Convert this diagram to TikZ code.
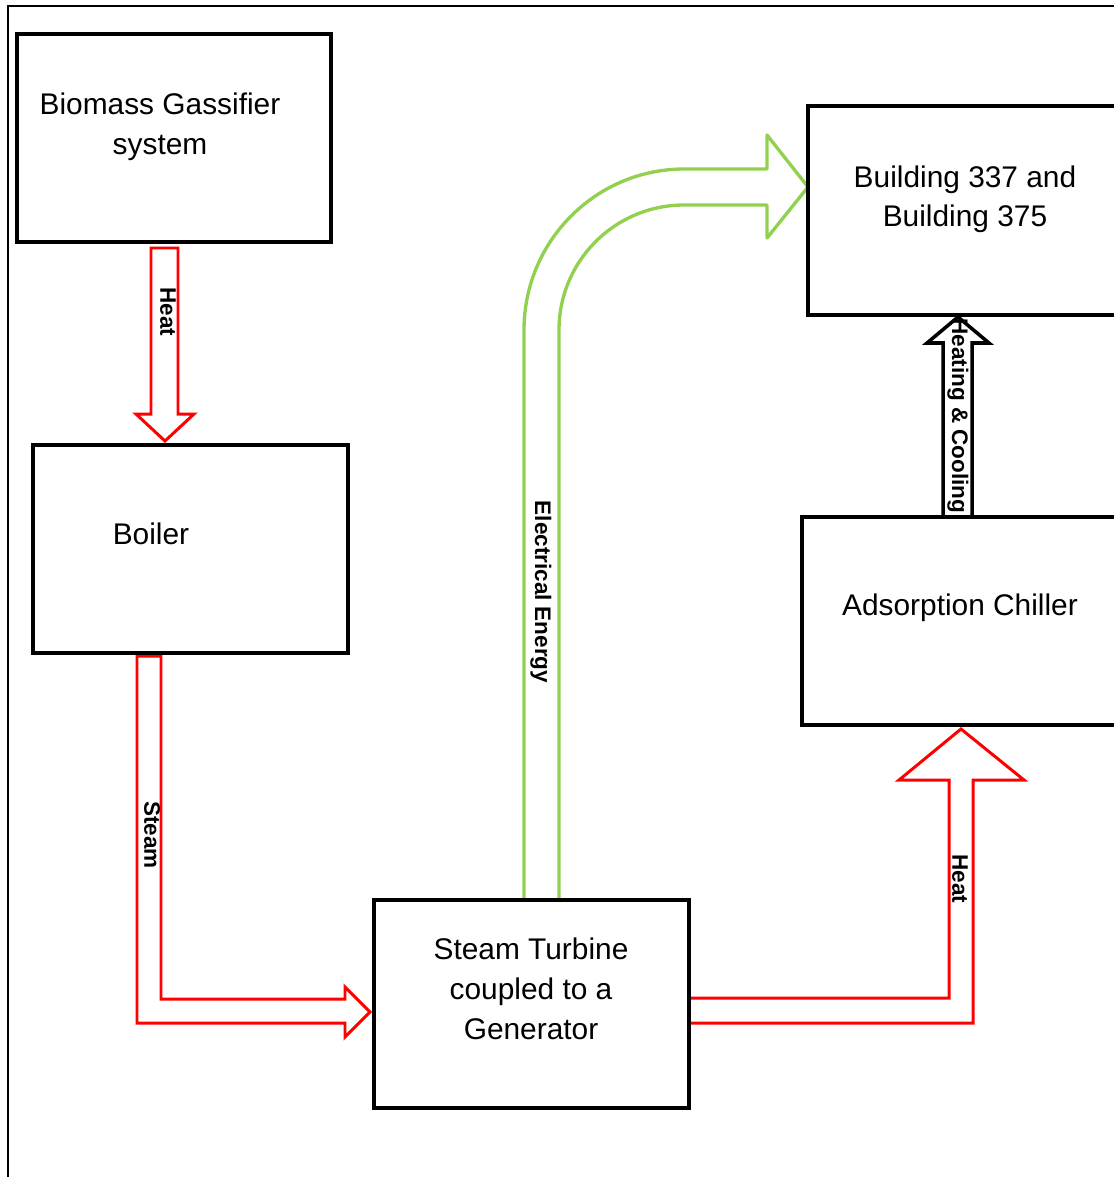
\documentclass[tikz,border=0pt]{standalone}
\usepackage{fontspec}
\setmainfont{Liberation Sans}
\usepackage{tikz}
\usetikzlibrary{positioning}
\definecolor{elecgreen}{RGB}{146,208,80}
\tikzset{
  unit/.style={draw=black,line width=2pt},
  unittext/.style={align=center,font=\fontsize{17}{22.7}\selectfont},
  flowlabel/.style={rotate=-90,font=\fontsize{12.8}{15}\selectfont\bfseries},
  heatflow/.style={draw=red,line width=1.7pt,line join=miter},
  elecflow/.style={draw=elecgreen,line width=1.9pt,line join=round},
  hvacflow/.style={draw=black,line width=2pt,line join=miter}
}

\begin{document}
\begin{tikzpicture}[x=0.02cm,y=-0.02cm]
\useasboundingbox (0,0) rectangle (1114,1177);
\clip (0,0) rectangle (1114,1177);

\draw[line width=1pt] (8,1200) -- (8,6) -- (1130,6);

\draw[heatflow] (151,248) -- (151,414) -- (136,414) -- (165,441) -- (194,414) -- (178,414) -- (178,248) -- cycle;
\draw[heatflow] (137,656) -- (137,1023) -- (345,1023) -- (345,1037) -- (370,1012) -- (345,987) -- (345,999) -- (161,999) -- (161,656) -- cycle;
\draw[heatflow] (691,1023) -- (973,1023) -- (973,780) -- (1024,780) -- (961,729) -- (899,780) -- (949,780) -- (949,998) -- (691,998);
\draw[elecflow] (524,898) -- (524,330) .. controls (524,241) and (596,169) .. (684,169) -- (767,169) -- (767,135) -- (808,187) -- (767,238) -- (767,205) -- (684,205) .. controls (615,205) and (559,261) .. (559,330) -- (559,898);
\draw[hvacflow] (943,517) -- (943,343) -- (927,343) -- (958,317) -- (989,343) -- (972,343) -- (972,517);

\node[flowlabel] (heatin) at (168,312) {Heat};
\node[flowlabel] (steam) at (152,835) {Steam};
\node[flowlabel] (elec) at (541,592) {Electrical Energy};
\node[flowlabel] (hvac) at (958,416) {Heating \& Cooling};
\node[flowlabel] (heatout) at (960,879) {Heat};

\draw[unit] (17,34) rectangle (331,242);
\draw[unit] (33,445) rectangle (348,653);
\draw[unit] (374,900) rectangle (689,1108);
\draw[unit] (808,106) rectangle (1130,315);
\draw[unit] (802,517) rectangle (1130,725);

\node[unittext] (gasifier) at (160,127) {Biomass Gassifier\\system};
\node[unittext] (boiler) at (151,534) {Boiler};
\node[unittext,font=\fontsize{17}{22.2}\selectfont] (building) at (965,199) {Building 337 and\\Building 375};
\node[unittext] (turbine) at (531,989) {Steam Turbine\\coupled to a\\Generator};
\node[unittext] (chiller) at (960,608) {Adsorption Chiller};
\end{tikzpicture}
\end{document}
